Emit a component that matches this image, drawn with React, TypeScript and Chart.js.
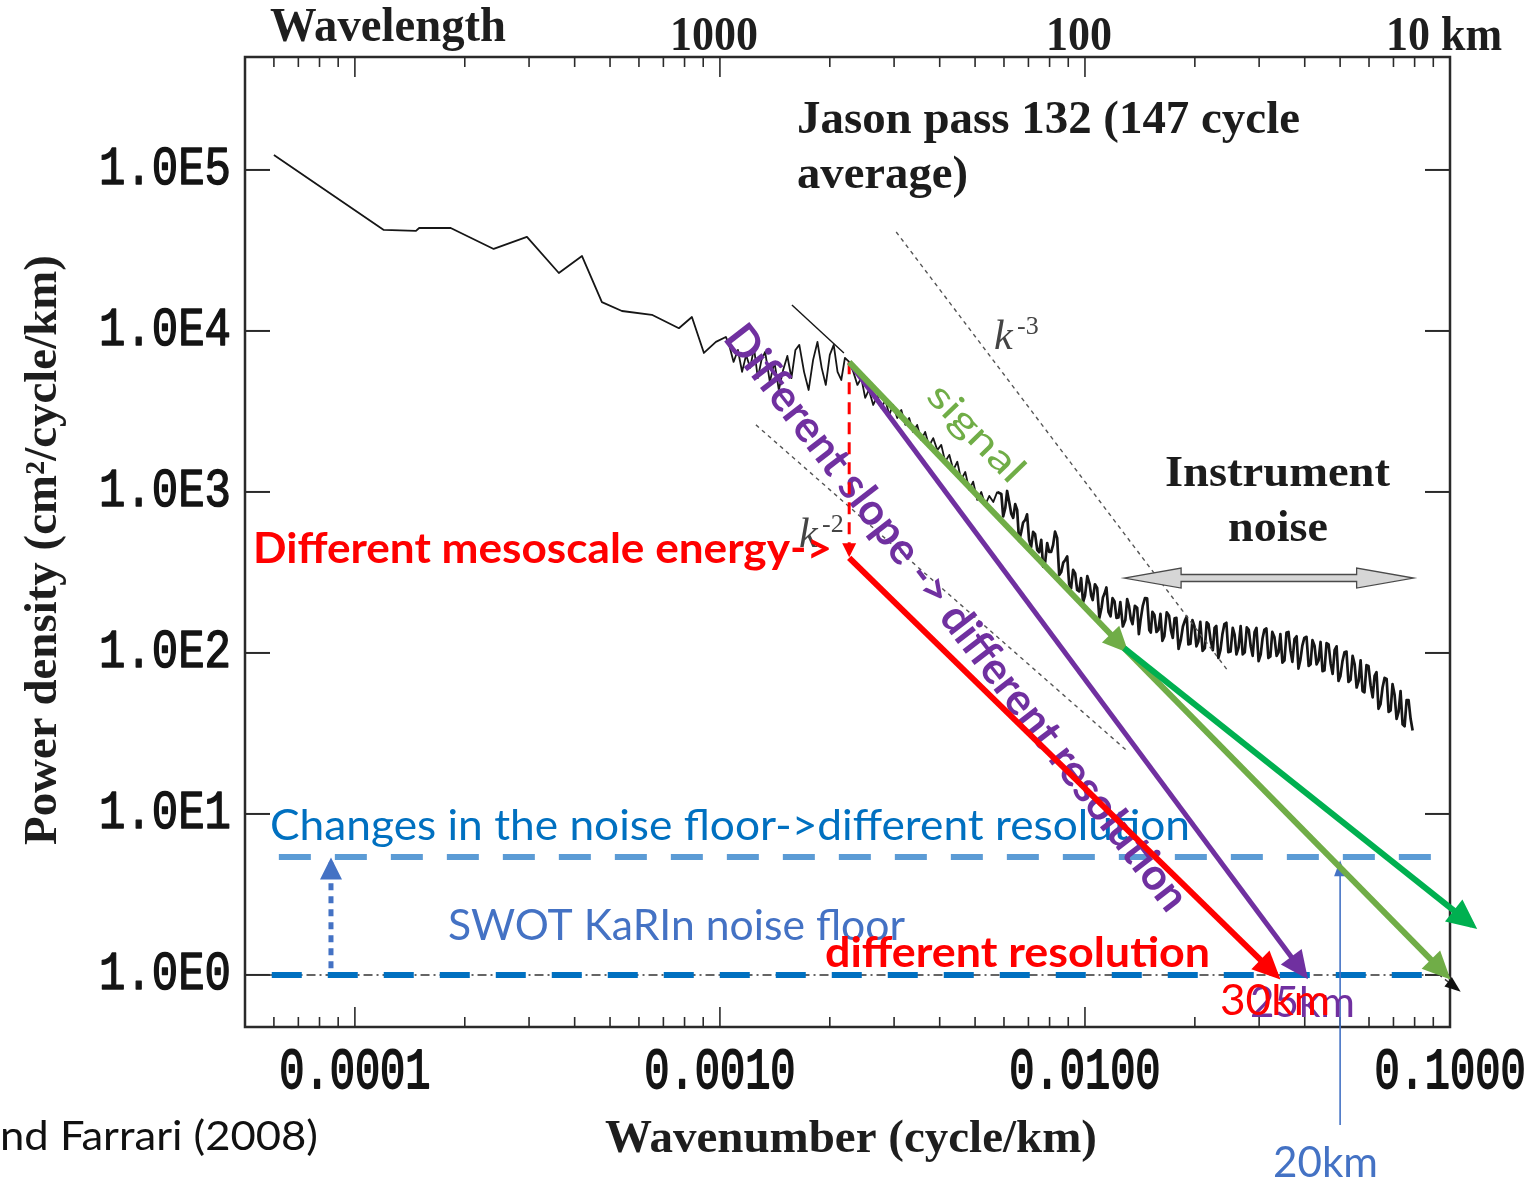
import React, { useEffect, useRef } from 'react';
import { Chart, registerables } from 'chart.js';

Chart.register(...registerables);

const W = 1530;
const H = 1179;

// ---- Jason pass 132 along-track spectrum (147 cycle average) ----
// wavenumber in cycle/km, power density in cm^2/(cycle/km)
const lowWavenumber = [6.0e-5, 1.2e-4, 1.47e-4, 1.5e-4, 1.83e-4, 2.4e-4, 2.96e-4, 3.62e-4, 4.19e-4, 4.75e-4, 5.39e-4, 6.51e-4, 7.72e-4, 8.38e-4, 9.04e-4, 9.75e-4, 1.038e-3];
const lowPower = [124000, 42400, 41800, 43600, 43600, 32300, 38400, 22900, 29200, 15100, 13300, 12600, 10400, 12200, 7300, 8550, 9180];

const mesoWavenumber = [
  0.00106, 0.00109, 0.00112, 0.00115, 0.00118, 0.00121, 0.00124, 0.00127, 0.0013, 0.00133,
  0.00137, 0.00141, 0.00145, 0.00149, 0.00153, 0.00157, 0.00161, 0.00165, 0.0017, 0.00175,
  0.0018, 0.00185, 0.0019, 0.00195, 0.002, 0.00205, 0.0021, 0.00215, 0.0022, 0.00226,
  0.00232, 0.00238, 0.00244, 0.0025, 0.00256, 0.00263, 0.0027, 0.00277, 0.00284, 0.00291,
  0.00298, 0.00306, 0.00314, 0.00322, 0.0033, 0.00338, 0.00347, 0.00356, 0.00365, 0.00374,
  0.00384, 0.00394, 0.00404, 0.00414, 0.00425, 0.00436, 0.00447, 0.00458, 0.0047, 0.00482,
  0.00494, 0.00507, 0.0052, 0.00533, 0.00547, 0.00561, 0.00575,
];
const mesoPower = [
  8190, 6420, 7620, 5570, 7100, 5900, 7840, 5100, 6610, 7410,
  4820, 6420, 4300, 5730, 7000, 5100, 7620, 8190, 5570, 4300,
  6610, 8540, 5900, 4620, 7100, 8190, 5570, 4960, 6800, 6420,
  5570, 4620, 5100, 3840, 4300, 3470, 3950, 3320, 3730, 3010,
  3470, 2880, 3230, 2610, 2880, 2360, 2610, 2100, 2360, 1930,
  2160, 1820, 1960, 1540, 1700, 1370, 1540, 1190, 1330, 1030,
  1160, 892, 1000, 830, 945, 867, 1000,
];

// noise-dominated tail
const tailWavenumber = [
  0.0059, 0.00605, 0.0062, 0.00636, 0.00652, 0.00669, 0.00686, 0.00703, 0.00721, 0.0074,
  0.00759, 0.00778, 0.00798, 0.00818, 0.00839, 0.00861, 0.00883, 0.00905, 0.00928, 0.00952,
  0.00976, 0.01, 0.0103, 0.0105, 0.0108, 0.0111, 0.0113, 0.0116, 0.0119, 0.0122,
  0.0125, 0.0129, 0.0132, 0.0135, 0.0139, 0.0142, 0.0146, 0.015, 0.0153, 0.0157,
  0.0161, 0.0165, 0.017, 0.0174, 0.0178, 0.0183, 0.0188, 0.0192, 0.0197, 0.0202,
  0.0207, 0.0213, 0.0218, 0.0224, 0.0229, 0.0235, 0.0241, 0.0247, 0.0254, 0.026,
  0.0267, 0.0274, 0.0281, 0.0288, 0.0295, 0.0303, 0.031, 0.0318, 0.0326, 0.0335,
  0.0343, 0.0352, 0.0361, 0.037, 0.038, 0.0389, 0.0399, 0.041, 0.042, 0.0431,
  0.0442, 0.0453, 0.0465, 0.0477, 0.0489, 0.0501, 0.0514, 0.0527, 0.0541, 0.0555,
  0.0569, 0.0583, 0.0598, 0.0614, 0.0629, 0.0645, 0.0662, 0.0679, 0.0696, 0.0714,
  0.0732, 0.0751, 0.077, 0.079,
];
const tailPower = [
  972, 796, 867, 690, 773, 565, 670, 504, 565, 437,
  504, 367, 424, 469, 519, 318, 378, 268, 328, 246,
  292, 226, 268, 213, 253, 191, 232, 180, 219, 165,
  207, 160, 196, 151, 191, 160, 219, 139, 180, 135,
  175, 127, 170, 124, 165, 120, 160, 113, 160, 110,
  156, 107, 151, 104, 147, 104, 151, 101, 143, 98,
  147, 101, 139, 96, 143, 98, 139, 93, 135, 96,
  131, 90, 135, 88, 127, 90, 124, 83, 120, 85,
  117, 78, 113, 74, 110, 72, 101, 66, 96, 61,
  90, 57, 83, 53, 76, 48, 70, 43, 64, 39,
  58, 35, 51, 33,
];
// in-between harmonics of the tail
const tailMidWavenumber = [
  0.00597, 0.00612, 0.00628, 0.00644, 0.0066, 0.00677, 0.00694, 0.00712, 0.0073, 0.00749,
  0.00768, 0.00788, 0.00808, 0.00828, 0.0085, 0.00872, 0.00894, 0.00916, 0.0094, 0.00964,
  0.00988, 0.01015, 0.0104, 0.01065, 0.01095, 0.0112, 0.01145, 0.01175, 0.01205, 0.01235,
  0.0127, 0.01305, 0.01335, 0.0137, 0.01405, 0.0144, 0.0148, 0.01515, 0.0155, 0.0159,
  0.0163, 0.01675, 0.0172, 0.0176, 0.01805, 0.01855, 0.019, 0.01945, 0.01995, 0.02045,
  0.021, 0.02155, 0.0221, 0.02265, 0.0232, 0.0238, 0.0244, 0.02505, 0.0257, 0.02635,
  0.02705, 0.02775, 0.02845, 0.02915, 0.0299, 0.03065, 0.0314, 0.0322, 0.03305, 0.0339,
  0.03475, 0.03565, 0.03655, 0.0375, 0.03845, 0.0394, 0.04045, 0.0415, 0.04255, 0.04365,
  0.04475, 0.0459, 0.0471, 0.0483, 0.0495, 0.05075, 0.05205, 0.0534, 0.0548, 0.0562,
  0.0576, 0.05905, 0.0606, 0.06215, 0.0637, 0.06535, 0.06705, 0.06875, 0.0705, 0.0723,
  0.07415, 0.07605, 0.078,
];
const tailMidPower = [
  704, 1014, 734, 840, 496, 646, 726, 454, 547, 422,
  344, 481, 424, 567, 305, 364, 398, 252, 312, 241,
  206, 300, 227, 267, 165, 221, 255, 169, 209, 166,
  146, 216, 163, 196, 131, 196, 218, 134, 172, 139,
  119, 179, 138, 164, 106, 146, 168, 114, 146, 118,
  103, 155, 119, 143, 93, 131, 154, 102, 130, 108,
  98, 144, 110, 135, 89, 123, 142, 95, 125, 101,
  87, 134, 104, 122, 80, 111, 126, 85, 111, 90,
  77, 115, 86, 104, 67, 89, 102, 68, 85, 67,
  58, 84, 63, 72, 45, 61, 69, 44, 55, 43,
  36, 51, 39,
];

// short fit segment and spectral slope guides
const fitWavenumber = [0.001575, 0.002186];
const fitPower = [14500, 7300];
const k3Wavenumber = [0.00304, 0.0248];
const k3Power = [41200, 76];
const k2Wavenumber = [0.001255, 0.01295];
const k2Power = [2610, 25];

// reference level (1 cm^2/cycle/km) with its end arrow
const refWavenumber = [5.8e-5, 0.0935, 0.106];
const refPower = [1, 1, 0.8];

// noise floors
const floorWavenumber = [5.92e-5, 0.0876];
const floorLevel = 1;
const raisedFloorWavenumber = [6.19e-5, 0.089];
const raisedFloorLevel = 5.4;
const floorShiftWavenumber = 8.6e-5;
const floorShiftPower = [1.1, 5.0];

// resolutions (km) reached by each scenario: energy, slope, noise floor
const resolutionKm = [30, 25, 20];

// signal extrapolations
const signalWavenumber = [0.00226, 0.0128, 0.0975];
const signalPower = [6400, 107, 1.0];
const flatterWavenumber = [0.0128, 0.115];
const flatterPower = [107, 2.04];
const energyStartPower = 390;
const energyDropPower = [6400, 410];
const resolutionMarkPower = [0.117, 5.0];

// instrument-noise span
const noiseSpanWavenumber = [0.0128, 0.0795];
const noiseSpanPower = 292;

// axis ticks
const yTickValues = [1, 10, 100, 1000, 10000, 100000];
const yTickLabels = ['1.0E0', '1.0E1', '1.0E2', '1.0E3', '1.0E4', '1.0E5'];
const xTickValues = [0.0001, 0.001, 0.01, 0.1];
const xTickLabels = ['0.0001', '0.0010', '0.0100', '0.1000'];
const wavelengthTickValues = [0.001, 0.01, 0.1];
const wavelengthTickLabels = ['1000', '100', '10 km'];

const INK = '#161616';
const RED = '#FF0000';
const PURPLE = '#7030A0';
const GREEN_LIGHT = '#70AD47';
const GREEN = '#00B050';
const BLUE_DARK = '#0070C0';
const BLUE_LIGHT = '#5B9BD5';
const BLUE_MID = '#4472C4';

const SERIF = '"Liberation Serif", "Times New Roman", serif';
const MONO = '"Liberation Mono", "DejaVu Sans Mono", monospace';
const SANS = 'Lato, "Open Sans", sans-serif';

type TextOpts = {
  font: string;
  color: string;
  align?: CanvasTextAlign;
  baseline?: CanvasTextBaseline;
  width?: number;
  sy?: number;
  angle?: number;
  stroke?: number;
};

function drawText(ctx: CanvasRenderingContext2D, str: string, x: number, y: number, o: TextOpts) {
  ctx.save();
  ctx.font = o.font;
  ctx.fillStyle = o.color;
  ctx.textAlign = o.align ?? 'left';
  ctx.textBaseline = o.baseline ?? 'alphabetic';
  ctx.translate(x, y);
  if (o.angle) ctx.rotate(o.angle);
  const sx = o.width ? o.width / ctx.measureText(str).width : 1;
  ctx.scale(sx, o.sy ?? 1);
  ctx.fillText(str, 0, 0);
  if (o.stroke) {
    ctx.strokeStyle = o.color;
    ctx.lineWidth = o.stroke;
    ctx.lineJoin = 'round';
    ctx.strokeText(str, 0, 0);
  }
  ctx.restore();
}

function seg(ctx: CanvasRenderingContext2D, x1: number, y1: number, x2: number, y2: number) {
  ctx.beginPath();
  ctx.moveTo(x1, y1);
  ctx.lineTo(x2, y2);
  ctx.stroke();
}

function drawFrame(chart: any) {
  const { ctx, chartArea: a, scales } = chart;
  const x = scales.x;
  const y = scales.y;
  ctx.save();
  ctx.strokeStyle = '#2a2a2a';
  ctx.lineWidth = 2.5;
  ctx.strokeRect(a.left, a.top, a.right - a.left, a.bottom - a.top);

  // logarithmic wavenumber ticks, inward, on bottom and top
  ctx.lineWidth = 1.6;
  for (let e = -5; e <= -1; e++) {
    for (let m = 1; m <= 9; m++) {
      const v = m * Math.pow(10, e);
      if (v <= x.min * 1.001 || v >= x.max * 0.999) continue;
      const px = x.getPixelForValue(v);
      const len = m === 1 ? 20 : 10;
      seg(ctx, px, a.bottom, px, a.bottom - len);
      seg(ctx, px, a.top, px, a.top + len);
    }
  }
  // decade ticks on the power axis, inward on both sides
  ctx.lineWidth = 2;
  yTickValues.forEach((v) => {
    const py = y.getPixelForValue(v);
    seg(ctx, a.left, py, a.left + 25, py);
    seg(ctx, a.right, py, a.right - 25, py);
  });
  ctx.restore();

  yTickValues.forEach((v, i) => {
    drawText(ctx, yTickLabels[i], 231, y.getPixelForValue(v), {
      font: `44px ${MONO}`, color: '#141414', align: 'right', baseline: 'middle', sy: 1.22, stroke: 1.2,
    });
  });
  xTickValues.forEach((v, i) => {
    drawText(ctx, xTickLabels[i], x.getPixelForValue(v), 1073, {
      font: `42px ${MONO}`, color: '#141414', align: 'center', baseline: 'middle', sy: 1.38, stroke: 1.4,
    });
  });
  wavelengthTickValues.forEach((v, i) => {
    drawText(ctx, wavelengthTickLabels[i], x.getPixelForValue(v) - 6, 50, {
      font: `bold 44px ${SERIF}`, color: '#1e1e1e', align: 'center', sy: 1.08,
    });
  });
  drawText(ctx, 'Wavelength', 270, 41, { font: `bold 44px ${SERIF}`, color: '#1e1e1e', width: 236, sy: 1.08 });
  drawText(ctx, 'Wavenumber (cycle/km)', 605, 1152, { font: `bold 42px ${SERIF}`, color: '#1e1e1e', width: 492, sy: 1.08 });
  drawText(ctx, 'Power density (cm²/cycle/km)', 56, 550, {
    font: `bold 42px ${SERIF}`, color: '#1e1e1e', align: 'center', width: 590, angle: -Math.PI / 2, sy: 1.08,
  });
}

function drawNoiseSpan(chart: any) {
  const { ctx, scales } = chart;
  const x1 = scales.x.getPixelForValue(noiseSpanWavenumber[0]);
  const x2 = scales.x.getPixelForValue(noiseSpanWavenumber[1]);
  const yc = scales.y.getPixelForValue(noiseSpanPower);
  const head = 57;
  const hh = 10;
  const sh = 3.5;
  ctx.save();
  ctx.beginPath();
  ctx.moveTo(x1, yc);
  ctx.lineTo(x1 + head, yc - hh);
  ctx.lineTo(x1 + head, yc - sh);
  ctx.lineTo(x2 - head, yc - sh);
  ctx.lineTo(x2 - head, yc - hh);
  ctx.lineTo(x2, yc);
  ctx.lineTo(x2 - head, yc + hh);
  ctx.lineTo(x2 - head, yc + sh);
  ctx.lineTo(x1 + head, yc + sh);
  ctx.lineTo(x1 + head, yc + hh);
  ctx.closePath();
  ctx.fillStyle = '#d6d6d6';
  ctx.fill();
  ctx.strokeStyle = '#4a4a4a';
  ctx.lineWidth = 1.3;
  ctx.stroke();
  ctx.restore();
}

function drawAnnotations(chart: any) {
  const ctx: CanvasRenderingContext2D = chart.ctx;
  const dark = '#1c1c1c';
  // labels of the original spectrum figure
  drawText(ctx, 'Jason pass 132 (147 cycle', 797, 133, { font: `bold 44px ${SERIF}`, color: dark, width: 503, sy: 1.05 });
  drawText(ctx, 'average)', 797, 188, { font: `bold 44px ${SERIF}`, color: dark, width: 171, sy: 1.05 });
  drawText(ctx, 'Instrument', 1165, 486, { font: `bold 42px ${SERIF}`, color: dark, width: 225, sy: 1.05 });
  drawText(ctx, 'noise', 1228, 541, { font: `bold 42px ${SERIF}`, color: dark, width: 100, sy: 1.05 });
  drawText(ctx, 'k', 994, 349, { font: `italic 42px ${SERIF}`, color: '#444' });
  drawText(ctx, '-3', 1017, 334, { font: `26px ${SERIF}`, color: '#444' });
  drawText(ctx, 'k', 799, 547, { font: `italic 42px ${SERIF}`, color: '#444' });
  drawText(ctx, '-2', 822, 532, { font: `26px ${SERIF}`, color: '#444' });
  drawNoiseSpan(chart);

  // SWOT discussion
  drawText(ctx, 'Changes in the noise floor->different resolution', 270, 840, { font: `42px ${SANS}`, color: BLUE_DARK, width: 920 });
  drawText(ctx, 'SWOT KaRIn noise floor', 448, 940, { font: `42px ${SANS}`, color: BLUE_MID, width: 457 });
  drawText(ctx, 'Different mesoscale energy->', 253, 563, { font: `bold 42px ${SANS}`, color: RED, width: 579 });
  drawText(ctx, 'different resolution', 825, 967, { font: `bold 42px ${SANS}`, color: RED, width: 385 });
  drawText(ctx, 'signal', 976, 433, {
    font: `38px ${SANS}`, color: GREEN_LIGHT, align: 'center', baseline: 'middle', width: 122, angle: 0.8,
  });
  drawText(ctx, 'Different slope -> different resolution', 956, 618, {
    font: `bold 44px ${SANS}`, color: PURPLE, align: 'center', baseline: 'middle', width: 728, angle: 0.912,
  });
  drawText(ctx, `${resolutionKm[1]}km`, 1250, 1017, { font: `42px ${SANS}`, color: PURPLE, width: 105 });
  drawText(ctx, `${resolutionKm[0]}km`, 1220, 1015, { font: `42px ${SANS}`, color: RED, width: 110 });
  drawText(ctx, `${resolutionKm[2]}km`, 1273, 1177, { font: `42px ${SANS}`, color: BLUE_MID, width: 105 });
  drawText(ctx, 'nd Farrari (2008)', 0, 1150, { font: `40px ${SANS}`, color: '#111', width: 318 });
}

function drawArrowHead(chart: any, index: number, meta: any) {
  const ds: any = chart.data.datasets[index];
  if (!ds.arrow) return;
  const pts = meta.data;
  const tip = pts[pts.length - 1];
  const prev = pts[pts.length - 2];
  const ang = Math.atan2(tip.y - prev.y, tip.x - prev.x);
  const { len, half, color } = ds.arrow;
  const ext = (ds.borderWidth * len) / (2 * half);
  const ctx: CanvasRenderingContext2D = chart.ctx;
  ctx.save();
  ctx.translate(tip.x, tip.y);
  ctx.rotate(ang);
  ctx.beginPath();
  ctx.moveTo(ext, 0);
  ctx.lineTo(ext - len, -half);
  ctx.lineTo(ext - len, half);
  ctx.closePath();
  ctx.fillStyle = color;
  ctx.fill();
  ctx.restore();
}

const figurePlugin = {
  id: 'figureDecor',
  beforeDatasetsDraw(chart: any) {
    drawFrame(chart);
  },
  afterDatasetDraw(chart: any, args: any) {
    drawArrowHead(chart, args.index, args.meta);
    if ((chart.data.datasets[args.index] as any).textLayer) drawAnnotations(chart);
  },
};

const pts = (ks: number[], ps: number[]) => ks.map((k, i) => ({ x: k, y: ps[i] }));

export default function App() {
  const ref = useRef<HTMLCanvasElement>(null);

  useEffect(() => {
    const canvas = ref.current;
    if (!canvas) return;
    const energyK = 1 / resolutionKm[0];
    const slopeK = 1 / resolutionKm[1];
    const noiseK = 1 / resolutionKm[2];
    const base = { showLine: true, pointRadius: 0, pointHoverRadius: 0, fill: false, tension: 0 };

    const spectrumHead = [...pts(lowWavenumber, lowPower), ...pts(mesoWavenumber, mesoPower)];
    // the tail continues from the last mesoscale harmonic
    const spectrumTail = [
      spectrumHead[spectrumHead.length - 1],
      ...pts(tailWavenumber, tailPower),
      ...pts(tailMidWavenumber, tailMidPower),
    ].sort((a, b) => a.x - b.x);

    const chart = new Chart(canvas, {
      type: 'scatter',
      data: {
        datasets: [
          { ...base, label: 'Jason pass 132', data: spectrumHead, borderColor: INK, borderWidth: 1.8, borderJoinStyle: 'round', order: 21 },
          { ...base, label: 'Jason pass 132 (noise range)', data: spectrumTail, borderColor: INK, borderWidth: 2.7, borderJoinStyle: 'round', order: 20 },
          { ...base, label: 'fit', data: pts(fitWavenumber, fitPower), borderColor: INK, borderWidth: 1.4, order: 19 },
          { ...base, label: 'k^-3', data: pts(k3Wavenumber, k3Power), borderColor: '#555', borderWidth: 1.4, borderDash: [4, 4], order: 18 },
          { ...base, label: 'k^-2', data: pts(k2Wavenumber, k2Power), borderColor: '#555', borderWidth: 1.4, borderDash: [4, 4], order: 17 },
          { ...base, label: 'reference level', data: pts(refWavenumber, refPower), borderColor: '#333', borderWidth: 1.4, borderDash: [9, 4, 2, 4], order: 16, clip: false, arrow: { len: 16, half: 6, color: '#111' } },
          { ...base, label: 'SWOT KaRIn noise floor', data: pts(floorWavenumber, [floorLevel, floorLevel]), borderColor: BLUE_DARK, borderWidth: 6, borderDash: [30, 26], order: 15 },
          { ...base, label: 'raised noise floor', data: pts(raisedFloorWavenumber, [raisedFloorLevel, raisedFloorLevel]), borderColor: BLUE_LIGHT, borderWidth: 6, borderDash: [32, 24], order: 14 },
          { ...base, label: 'noise floor shift', data: pts([floorShiftWavenumber, floorShiftWavenumber], floorShiftPower), borderColor: BLUE_MID, borderWidth: 5, borderDash: [7, 6], order: 13, arrow: { len: 22, half: 11, color: BLUE_MID } },
          { ...base, label: '20 km', data: pts([noiseK, noiseK], resolutionMarkPower), borderColor: BLUE_MID, borderWidth: 1.6, order: 12, clip: false, arrow: { len: 16, half: 6, color: BLUE_MID }, textLayer: true },
          { ...base, label: 'energy drop', data: pts([signalWavenumber[0], signalWavenumber[0]], energyDropPower), borderColor: RED, borderWidth: 3, borderDash: [12, 8], order: 6, arrow: { len: 14, half: 7, color: RED } },
          { ...base, label: 'lower energy', data: pts([signalWavenumber[0], energyK], [energyStartPower, 1]), borderColor: RED, borderWidth: 6, order: 5, arrow: { len: 28, half: 13, color: RED } },
          { ...base, label: 'steeper slope', data: pts([signalWavenumber[0], slopeK], [signalPower[0], 1]), borderColor: PURPLE, borderWidth: 5, order: 4, arrow: { len: 28, half: 13, color: PURPLE } },
          { ...base, label: 'signal', data: pts(signalWavenumber.slice(0, 2), signalPower.slice(0, 2)), borderColor: GREEN_LIGHT, borderWidth: 6, order: 3, arrow: { len: 26, half: 12, color: GREEN_LIGHT } },
          { ...base, label: 'signal extrapolated', data: pts(signalWavenumber.slice(1), signalPower.slice(1)), borderColor: GREEN_LIGHT, borderWidth: 6, order: 2, clip: false, arrow: { len: 28, half: 13, color: GREEN_LIGHT } },
          { ...base, label: 'flatter signal', data: pts(flatterWavenumber, flatterPower), borderColor: GREEN, borderWidth: 6, order: 1, clip: false, arrow: { len: 30, half: 14, color: GREEN } },
        ] as any,
      },
      options: {
        animation: false,
        responsive: false,
        devicePixelRatio: 1,
        events: [],
        layout: { padding: { left: 245, right: W - 1450, top: 57, bottom: H - 1027 } },
        plugins: { legend: { display: false }, tooltip: { enabled: false } },
        scales: {
          x: { type: 'logarithmic', min: 5e-5, max: 0.1, display: false },
          y: { type: 'logarithmic', min: 0.475, max: 503000, display: false },
        },
      },
      plugins: [figurePlugin],
    } as any);

    return () => chart.destroy();
  }, []);

  return (
    <div style={{ position: 'fixed', left: 0, top: 0, width: W, height: H, background: '#fff' }}>
      <canvas ref={ref} width={W} height={H} style={{ display: 'block', width: W, height: H }} />
    </div>
  );
}
